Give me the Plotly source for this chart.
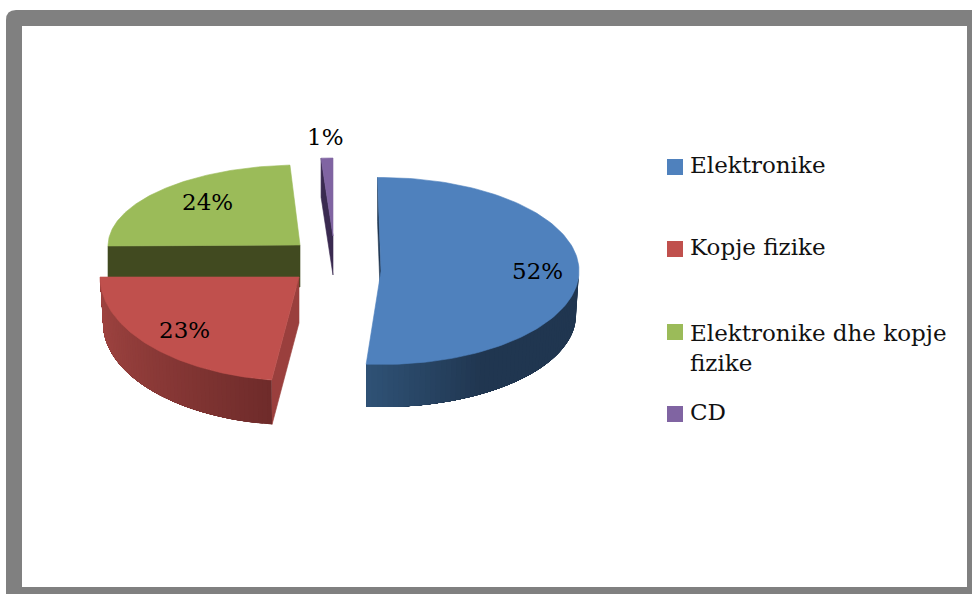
import numpy as np
import plotly.graph_objects as go

# --- data ---
categories = ["Elektronike", "Kopje fizike", "Elektronike dhe kopje fizike", "CD"]
values = [52, 23, 24, 1]
legend_text = ["Elektronike", "Kopje fizike", "Elektronike dhe kopje<br>fizike", "CD"]

# --- styling / layout of the exploded 3-D pie (pixel axes) ---
top_colors = ["#4F81BD", "#C0504D", "#9BBB59", "#8064A2"]
side_start = [(47, 82, 118), (160, 68, 65), (65, 74, 32), (58, 42, 80)]
side_end = [(32, 54, 80), (110, 43, 42), (65, 74, 32), (58, 42, 80)]
cut_colors = ["#1F3550", "#9A3F3D", "#414A20", "#3A2A50"]
apex = [(381, 271), (299, 277), (300, 245), (333, 236)]
ellipse_center = [(381, 271), (299, 277), (300, 246), (333, 236)]
radius_x = [198, 199, 192, 190]
radius_y = [93.5, 104, 81, 78]
depth = [44, 46, 42, 39]
bottom_scale = [0.985, 0.985, 1.0, 1.0]
angle_nudge = [(-1.0, -2.9), (0.7, 0.0), (0.0, 0.6), (0.0, 0.0)]
label_pos = [(537, 271), (184, 330), (207, 202), (325, 137)]
legend_y = [165, 247, 348, 412]
swatch_y = [167, 249, 332, 414]
FONT = "DejaVu Serif"
LABEL_SIZE = 23

fig = go.Figure()


def poly(xs, ys, color, name, edge=0.6):
    fig.add_trace(go.Scatter(
        x=list(xs) + [xs[0]], y=list(ys) + [ys[0]], mode="lines", fill="toself",
        fillcolor=color, line=dict(color=color, width=edge), hoverinfo="skip",
        showlegend=False, name=name))


def arc(i, t, dz=0.0, scale=1.0):
    cx, cy = ellipse_center[i]
    r = np.radians(t)
    return cx + scale * radius_x[i] * np.sin(r), cy - scale * radius_y[i] * np.cos(r) + dz


total = sum(values)
edges = np.cumsum([0] + values) * 360.0 / total

for i in [3, 2, 1, 0]:
    t0 = edges[i] + angle_nudge[i][0]
    t1 = edges[i + 1] + angle_nudge[i][1]
    ax, ay = apex[i]
    d = depth[i]
    s = bottom_scale[i]

    # the cut faces that look toward the viewer
    x0, y0 = arc(i, t0)
    if categories[i] == "Kopje fizike":
        xb, yb = arc(i, t0, d, s)
        poly([ax, x0, xb, ax], [ay, y0, yb, ay + d], cut_colors[i], categories[i])
    else:
        poly([x0, ax, ax, x0], [y0, ay, ay + d, y0 + d], cut_colors[i], categories[i])

    # curved outer wall, shaded in small steps painted over each other
    lo, hi = max(t0, 90), min(t1, 270)
    if hi > lo:
        steps = 60
        ts = np.linspace(lo, hi, steps + 1)
        for k in range(steps):
            mid = (ts[k] + ts[k + 1]) / 2
            if categories[i] == "Elektronike":
                f = min(1.0, (t1 - mid) / 35.0)
            else:
                f = (1 - (mid - lo) / (hi - lo)) ** 1.3
            c0, c1 = side_start[i], side_end[i]
            col = tuple(int(round(c0[j] + (c1[j] - c0[j]) * f)) for j in range(3))
            sweep = np.linspace(ts[k], hi, 24)
            xa = arc(i, sweep)
            xbt = arc(i, sweep[::-1], d, s)
            poly(np.r_[xa[0], xbt[0]], np.r_[xa[1], xbt[1]], f"rgb{col}", categories[i], edge=0)

    # top face
    ts = np.linspace(t0, t1, 120)
    ex, ey = arc(i, ts)
    poly(np.r_[ax, ex], np.r_[ay, ey], top_colors[i], categories[i])

annotations = []
for v, (lx, ly) in zip(values, label_pos):
    annotations.append(dict(x=lx, y=ly, xref="x", yref="y", text=f"{v}%", showarrow=False,
                            font=dict(family=FONT, size=LABEL_SIZE, color="#000000")))
for t, ly in zip(legend_text, legend_y):
    annotations.append(dict(x=688, y=ly, xref="x", yref="y", text=t, showarrow=False,
                            xanchor="left", align="left",
                            font=dict(family=FONT, size=LABEL_SIZE, color="#111111")))

shapes = [
    dict(type="path", layer="below", line=dict(width=0), fillcolor="#808080",
         path="M 6 20 Q 6 10 16 10 L 980 10 L 980 600 L 6 600 Z"),
    dict(type="rect", layer="below", x0=22, y0=26, x1=967, y1=587,
         line=dict(width=0), fillcolor="#FFFFFF"),
]
for c, sy in zip(top_colors, swatch_y):
    shapes.append(dict(type="rect", layer="above", x0=667, x1=683, y0=sy - 8, y1=sy + 8,
                       line=dict(width=0), fillcolor=c))

fig.update_layout(
    width=972, height=594, autosize=False,
    margin=dict(l=0, r=0, t=0, b=0),
    paper_bgcolor="#FFFFFF", plot_bgcolor="rgba(0,0,0,0)",
    showlegend=False,
    xaxis=dict(range=[0, 972], visible=False, fixedrange=True),
    yaxis=dict(range=[594, 0], visible=False, fixedrange=True),
    annotations=annotations, shapes=shapes,
)
fig.write_html("out.html", config={"displayModeBar": False},
               post_script="document.body.style.margin='0';")
